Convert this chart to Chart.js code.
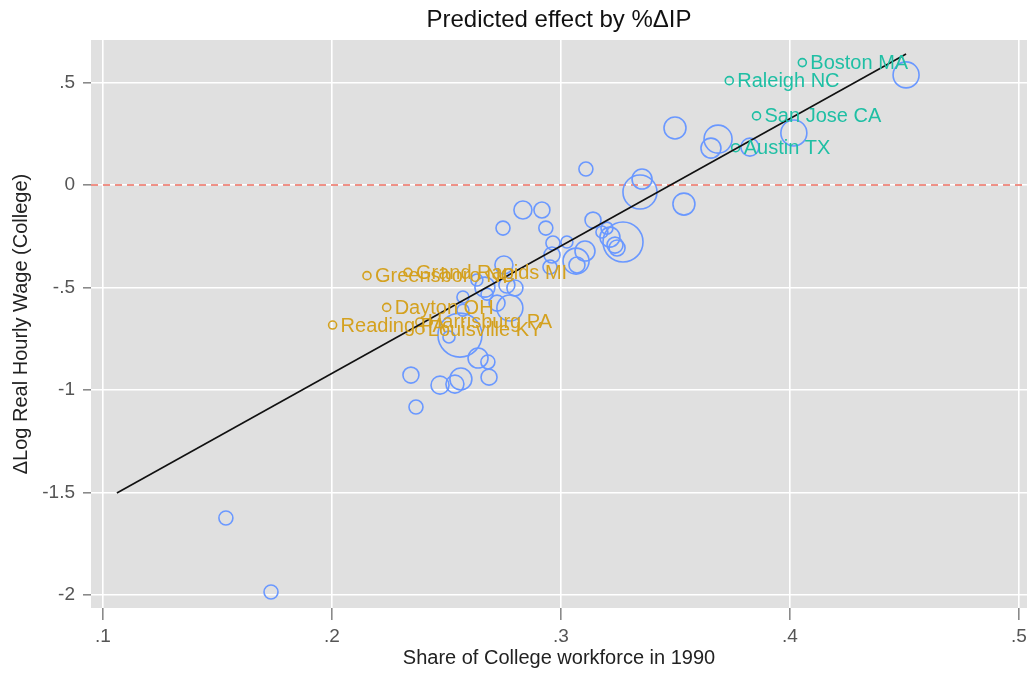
<!DOCTYPE html>
<html>
<head>
<meta charset="utf-8">
<script src="https://cdn.jsdelivr.net/npm/chart.js@4.4.1/dist/chart.umd.min.js"></script>
<style>
html,body{margin:0;padding:0;background:#fff;}
#wrap{width:1033px;height:675px;}
</style>
</head>
<body>
<div id="wrap"><canvas id="c" width="1033" height="675"></canvas></div>
<script>
// ---- data ----
const cityX = [0.1537,0.1734,0.2345,0.2367,0.2472,0.2537,0.2563,0.2638,0.2681,0.2686,
  0.2559,0.2511,0.2777,0.2721,0.2572,0.2572,0.2677,0.2668,0.2764,0.2799,
  0.2751,0.2834,0.2917,0.2747,0.2934,0.2965,0.3026,0.2961,0.2952,0.3066,
  0.3070,0.3105,0.3140,0.3179,0.3201,0.3214,0.3236,0.3245,0.3271,0.3345,
  0.3354,0.3109,0.3537,0.3498,0.3686,0.3655,0.3825,0.4017,0.4507,0.2633];
const cityY = [-1.624,-1.985,-0.927,-1.083,-0.976,-0.971,-0.946,-0.844,-0.863,-0.937,
  -0.732,-0.741,-0.600,-0.576,-0.546,-0.610,-0.532,-0.498,-0.488,-0.502,
  -0.390,-0.122,-0.122,-0.210,-0.210,-0.283,-0.278,-0.341,-0.400,-0.371,
  -0.390,-0.322,-0.171,-0.229,-0.210,-0.254,-0.293,-0.307,-0.278,-0.034,
  0.029,0.078,-0.093,0.278,0.224,0.180,0.185,0.254,0.537,-0.463];
const cityWeight = [7,7,8,7,9,9,11,10,7,8,
  22,6,13,8,6,6,6,10,8,8,
  9,9,8,7,7,7,6,8,7,13,
  8,10,8,6,6,10,8,8,20,17,
  10,7,11,11,14,10,9,13,13,6];

const highNames = ["Boston MA","Raleigh NC","San Jose CA","Austin TX"];
const highX = [0.4054,0.3735,0.3854,0.3763];
const highY = [0.597,0.509,0.337,0.182];

const lowNames = ["Greensboro NC","Grand Rapids MI","Dayton OH","Reading PA","Harrisburg PA","Louisville KY"];
const lowX = [0.2153,0.2332,0.2239,0.2003,0.2384,0.2384];
const lowY = [-0.442,-0.426,-0.597,-0.683,-0.668,-0.707];

const fitX = [0.1061,0.4507];
const fitY = [-1.502,0.639];

const xTickValues = [0.1,0.2,0.3,0.4,0.5];
const yTickValues = [-2,-1.5,-1,-0.5,0,0.5];

const chartTitle = 'Predicted effect by %ΔIP';

// ---- styles ----
const FONT = "'Liberation Sans', Arial, sans-serif";
const BLUE = "#6a98ff";
const TEAL = "#1fbfa4";
const GOLD = "#d4a11f";

function fmt(v){
  if (Math.abs(v) < 1e-9) return "0";
  let s = String(Math.round(v*100)/100);
  return s.replace("0.", ".");
}

const bgPlugin = {
  id: 'plotBg',
  beforeDraw(chart){
    const {ctx, chartArea:a} = chart;
    ctx.save();
    ctx.fillStyle = "#e0e0e0";
    ctx.fillRect(a.left, a.top, a.right-a.left, a.bottom-a.top);
    ctx.fillStyle = "#111";
    ctx.font = "24px " + FONT;
    ctx.textAlign = "center";
    ctx.textBaseline = "middle";
    ctx.fillText(chartTitle, (a.left+a.right)/2, 20);
    ctx.restore();
  },
  beforeDatasetsDraw(chart){
    const {ctx, chartArea:a, scales} = chart;
    const y0 = scales.y.getPixelForValue(0);
    ctx.save();
    ctx.strokeStyle = "#ec6f62";
    ctx.lineWidth = 1.4;
    ctx.setLineDash([7,5]);
    ctx.beginPath();
    ctx.moveTo(a.left, y0);
    ctx.lineTo(a.right, y0);
    ctx.stroke();
    ctx.restore();
  },
  afterDatasetsDraw(chart){
    const {ctx, scales} = chart;
    ctx.save();
    ctx.font = "20px " + FONT;
    ctx.textBaseline = "middle";
    ctx.textAlign = "left";
    ctx.fillStyle = TEAL;
    highNames.forEach((n,i)=>{
      ctx.fillText(n, scales.x.getPixelForValue(highX[i]) + 8, scales.y.getPixelForValue(highY[i]) + 1);
    });
    ctx.fillStyle = GOLD;
    lowNames.forEach((n,i)=>{
      ctx.fillText(n, scales.x.getPixelForValue(lowX[i]) + 8, scales.y.getPixelForValue(lowY[i]) + 1);
    });
    ctx.restore();
  }
};

const bubbleData = cityX.map((x,i)=>({x:x, y:cityY[i], r:cityWeight[i]}));
const highData = highX.map((x,i)=>({x:x, y:highY[i]}));
const lowData = lowX.map((x,i)=>({x:x, y:lowY[i]}));
const fitData = fitX.map((x,i)=>({x:x, y:fitY[i]}));

new Chart(document.getElementById('c'), {
  type: 'bubble',
  data: {
    datasets: [
      { type:'bubble', data: bubbleData, backgroundColor:'rgba(0,0,0,0)', borderColor: BLUE, borderWidth:1.6, order:3 },
      { type:'scatter', data: highData, pointRadius:4, pointBackgroundColor:'rgba(0,0,0,0)', pointBorderColor: TEAL, pointBorderWidth:1.6, showLine:false, order:2 },
      { type:'scatter', data: lowData, pointRadius:4, pointBackgroundColor:'rgba(0,0,0,0)', pointBorderColor: GOLD, pointBorderWidth:1.6, showLine:false, order:2 },
      { type:'line', data: fitData, borderColor:'#111', borderWidth:1.6, pointRadius:0, fill:false, order:1 }
    ]
  },
  options: {
    responsive: false,
    animation: false,
    layout: { autoPadding: false, padding: { left:0, right:6, top:40, bottom:0 } },
    plugins: {
      legend: { display:false },
      tooltip: { enabled:false },
      title: { display:false }
    },
    scales: {
      x: {
        type: 'linear',
        min: 0.0948, max: 0.5035,
        afterFit(s){ s.height = 67; s.paddingLeft = 0; s.paddingRight = 0; },
        afterBuildTicks(s){ s.ticks = xTickValues.map(v=>({value:v})); },
        grid: { color:'#ffffff', lineWidth:1.6, tickColor:'#8a8a8a', tickLength:12, drawTicks:true },
        border: { display:false },
        ticks: { callback: v => fmt(v), color:'#555', font:{family:FONT, size:19}, padding:5, maxRotation:0 },
        title: { display:true, text:'Share of College workforce in 1990', color:'#222', font:{family:FONT, size:20}, padding:{top:0,bottom:5} }
      },
      y: {
        type: 'linear',
        min: -2.063, max: 0.7073,
        afterFit(s){ s.width = 91; s.paddingTop = 0; s.paddingBottom = 0; },
        afterBuildTicks(s){ s.ticks = yTickValues.map(v=>({value:v})); },
        grid: { color:'#ffffff', lineWidth:1.6, tickColor:'#8a8a8a', tickLength:8, drawTicks:true },
        border: { display:false },
        ticks: { callback: v => fmt(v), color:'#555', font:{family:FONT, size:19}, padding:8 },
        title: { display:true, text:'ΔLog Real Hourly Wage (College)', color:'#222', font:{family:FONT, size:20}, padding:{top:9,bottom:0} }
      }
    }
  },
  plugins: [bgPlugin]
});
</script>
</body>
</html>
